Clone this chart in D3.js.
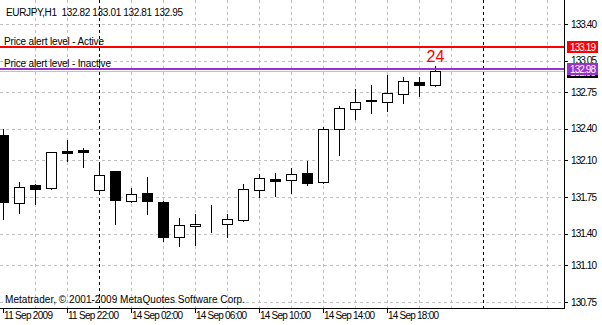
<!DOCTYPE html>
<html>
<head>
<meta charset="utf-8">
<script src="https://cdn.jsdelivr.net/npm/d3@7"></script>
<style>
  html, body { margin: 0; padding: 0; background: #fff; }
  svg { display: block; font-family: "Liberation Sans", Arial, sans-serif; }
  text { font-size: 10px; }
</style>
</head>
<body>
<div id="chart"></div>
<script>
// EURJPY H1 bars, 11 Sep 18:00 -> 14 Sep 21:00
const barTimes = [
    '11 Sep 18:00', '11 Sep 19:00', '11 Sep 20:00', '11 Sep 21:00', '11 Sep 22:00', '11 Sep 23:00',
    '14 Sep 00:00', '14 Sep 01:00', '14 Sep 02:00', '14 Sep 03:00', '14 Sep 04:00', '14 Sep 05:00',
    '14 Sep 06:00', '14 Sep 07:00', '14 Sep 08:00', '14 Sep 09:00', '14 Sep 10:00', '14 Sep 11:00',
    '14 Sep 12:00', '14 Sep 13:00', '14 Sep 14:00', '14 Sep 15:00', '14 Sep 16:00', '14 Sep 17:00',
    '14 Sep 18:00', '14 Sep 19:00', '14 Sep 20:00', '14 Sep 21:00'
];
const opens  = [132.34, 131.69, 131.87, 131.84, 132.19, 132.20, 131.82, 132.00, 131.71, 131.79, 131.70, 131.37, 131.47, 131.50,
                131.49, 131.53, 131.82, 131.92, 131.91, 131.98, 131.89, 132.40, 132.59, 132.68, 132.66, 132.73, 132.85, 132.82];
const highs  = [132.41, 131.90, 131.88, 132.18, 132.30, 132.23, 132.07, 132.01, 131.85, 131.95, 131.72, 131.56, 131.60, 131.68,
                131.60, 131.88, 131.98, 131.99, 132.04, 132.10, 132.43, 132.63, 132.79, 132.83, 132.92, 132.90, 132.90, 133.01];
const lows   = [131.54, 131.60, 131.68, 131.83, 132.09, 132.04, 131.81, 131.49, 131.70, 131.59, 131.33, 131.28, 131.29, 131.42,
                131.37, 131.52, 131.75, 131.76, 131.79, 131.87, 131.88, 132.15, 132.49, 132.55, 132.57, 132.65, 132.71, 132.81];
const closes = [131.70, 131.85, 131.83, 132.18, 132.17, 132.18, 131.96, 131.72, 131.78, 131.71, 131.37, 131.48, 131.49, 131.50,
                131.54, 131.83, 131.93, 131.90, 131.97, 131.88, 132.40, 132.60, 132.66, 132.67, 132.74, 132.86, 132.82, 132.95];

const priceTicks = [133.40, 133.05, 132.75, 132.40, 132.10, 131.75, 131.40, 131.10, 130.75];
const timeTickBars = [0, 4, 8, 12, 16, 20, 24];
const timeTickLabels = ['11 Sep 2009', '11 Sep 22:00', '14 Sep 02:00', '14 Sep 06:00', '14 Sep 10:00', '14 Sep 14:00', '14 Sep 18:00'];
const daySeparatorBars = [6, 30];   // 14 Sep 00:00, 15 Sep 00:00

const alertActive = 133.19;
const alertInactive = 132.98;
const bidPrice = 132.95;
const barCounter = '24';

const W = 602, H = 325;
const plotRight = 564, plotBottom = 308;

const svg = d3.select('#chart').append('svg')
    .attr('width', W)
    .attr('height', H)
    .attr('viewBox', `0 0 ${W} ${H}`);

const x = d3.scaleLinear().domain([0, 30]).range([3, 483]);
const y = d3.scaleLinear().domain([130.75, 133.40]).range([302, 24]);
const px = v => Math.round(x(v)) + 0.5;
const py = v => Math.round(y(v)) + 0.5;

const bars = barTimes.map((t, i) => ({
    i, t, o: opens[i], h: highs[i], l: lows[i], c: closes[i]
}));

// grid
const grid = svg.append('g').attr('shape-rendering', 'crispEdges');
grid.selectAll('line.hgrid')
    .data(priceTicks)
    .enter().append('line')
    .attr('x1', 0).attr('x2', plotRight)
    .attr('y1', d => py(d)).attr('y2', d => py(d))
    .attr('stroke', '#c0c0c0')
    .attr('stroke-dasharray', '3,3');

const gridBars = d3.range(2, 36, 2).filter(b => !daySeparatorBars.includes(b) && x(b) < plotRight);
grid.selectAll('line.vgrid')
    .data(gridBars)
    .enter().append('line')
    .attr('x1', d => px(d)).attr('x2', d => px(d))
    .attr('y1', 0).attr('y2', plotBottom)
    .attr('stroke', '#c0c0c0')
    .attr('stroke-dasharray', '3,3');

grid.selectAll('line.sep')
    .data(daySeparatorBars)
    .enter().append('line')
    .attr('x1', d => px(d)).attr('x2', d => px(d))
    .attr('y1', 0).attr('y2', plotBottom)
    .attr('stroke', '#000')
    .attr('stroke-dasharray', '3,3');

// bid line
svg.append('line')
    .attr('x1', 0).attr('x2', plotRight)
    .attr('y1', py(bidPrice)).attr('y2', py(bidPrice))
    .attr('stroke', '#c0c0c0')
    .attr('shape-rendering', 'crispEdges');

// candles
const candles = svg.append('g').attr('shape-rendering', 'crispEdges');
candles.selectAll('line.wick')
    .data(bars)
    .enter().append('line')
    .attr('x1', d => px(d.i)).attr('x2', d => px(d.i))
    .attr('y1', d => py(d.h)).attr('y2', d => py(d.l))
    .attr('stroke', '#000');

candles.selectAll('rect.body')
    .data(bars)
    .enter().append('rect')
    .attr('x', d => px(d.i) - 5)
    .attr('width', 10)
    .attr('y', d => py(Math.max(d.o, d.c)))
    .attr('height', d => Math.max(0, py(Math.min(d.o, d.c)) - py(Math.max(d.o, d.c))))
    .attr('fill', d => d.c >= d.o ? '#fff' : '#000')
    .attr('stroke', '#000');

// alert lines
const levels = [
    { v: alertActive, color: '#ff0000', label: 'Price alert level - Active', len: 100 },
    { v: alertInactive, color: '#9932cc', label: 'Price alert level - Inactive', len: 107 }
];
svg.selectAll('line.level')
    .data(levels)
    .enter().append('line')
    .attr('x1', 0).attr('x2', plotRight)
    .attr('y1', d => Math.round(y(d.v)) + 1).attr('y2', d => Math.round(y(d.v)) + 1)
    .attr('stroke', d => d.color)
    .attr('stroke-width', 2)
    .attr('shape-rendering', 'crispEdges');

svg.selectAll('text.level')
    .data(levels)
    .enter().append('text')
    .attr('x', 4)
    .attr('y', d => Math.round(y(d.v)) - 1)
    .attr('textLength', d => d.len)
    .attr('fill', '#000')
    .text(d => d.label);

// bar counter above last candle
const last = bars[bars.length - 1];
svg.append('text')
    .attr('x', x(last.i) + 0.5)
    .attr('y', y(last.h) - 3)
    .attr('text-anchor', 'middle')
    .attr('fill', '#ff0000')
    .style('font-size', '16px')
    .text(barCounter);

// frame
svg.append('path')
    .attr('d', `M${plotRight + 0.5},0V${plotBottom + 0.5}H0`)
    .attr('fill', 'none')
    .attr('stroke', '#000')
    .attr('shape-rendering', 'crispEdges');

// price axis
const yAxis = svg.append('g');
yAxis.selectAll('line')
    .data(priceTicks)
    .enter().append('line')
    .attr('x1', plotRight).attr('x2', plotRight + 4)
    .attr('y1', d => py(d)).attr('y2', d => py(d))
    .attr('stroke', '#000')
    .attr('shape-rendering', 'crispEdges');
yAxis.selectAll('text')
    .data(priceTicks)
    .enter().append('text')
    .attr('x', plotRight + 7)
    .attr('y', d => y(d) + 3.5)
    .attr('textLength', 26)
    .attr('fill', '#000')
    .text(d => d.toFixed(2));

// price labels on the axis (the 133.05 label sits partly under them, as in MT4)
const priceBoxes = [
    { v: bidPrice, color: '#000' },
    { v: alertInactive, color: '#9932cc' },
    { v: alertActive, color: '#ff0000' }
];
const boxes = svg.selectAll('g.pbox')
    .data(priceBoxes)
    .enter().append('g');
boxes.append('rect')
    .attr('x', plotRight + 3)
    .attr('y', d => Math.round(y(d.v)) - 5)
    .attr('width', 31)
    .attr('height', 12)
    .attr('fill', d => d.color);
boxes.append('text')
    .attr('x', plotRight + 6)
    .attr('y', d => Math.round(y(d.v)) + 4.5)
    .attr('textLength', 26)
    .attr('fill', '#fff')
    .text(d => d.v.toFixed(2));

// time axis
const xAxis = svg.append('g');
xAxis.selectAll('line')
    .data(timeTickBars)
    .enter().append('line')
    .attr('x1', d => px(d)).attr('x2', d => px(d))
    .attr('y1', plotBottom).attr('y2', plotBottom + 5)
    .attr('stroke', '#000')
    .attr('shape-rendering', 'crispEdges');
xAxis.selectAll('text')
    .data(timeTickBars)
    .enter().append('text')
    .attr('x', d => x(d) + 1)
    .attr('y', plotBottom + 11)
    .attr('textLength', (d, k) => k === 0 ? 49 : 51)
    .attr('fill', '#000')
    .text((d, k) => timeTickLabels[k]);

// header and footer
svg.append('text')
    .attr('x', 6).attr('y', 16)
    .attr('textLength', 177)
    .attr('fill', '#000')
    .attr('xml:space', 'preserve')
    .text(`EURJPY,H1  ${last.o.toFixed(2)} ${last.h.toFixed(2)} ${last.l.toFixed(2)} ${last.c.toFixed(2)}`);

svg.append('text')
    .attr('x', 5).attr('y', 303)
    .attr('textLength', 240)
    .attr('fill', '#000')
    .text('Metatrader, © 2001-2009 MetaQuotes Software Corp.');
</script>
</body>
</html>
